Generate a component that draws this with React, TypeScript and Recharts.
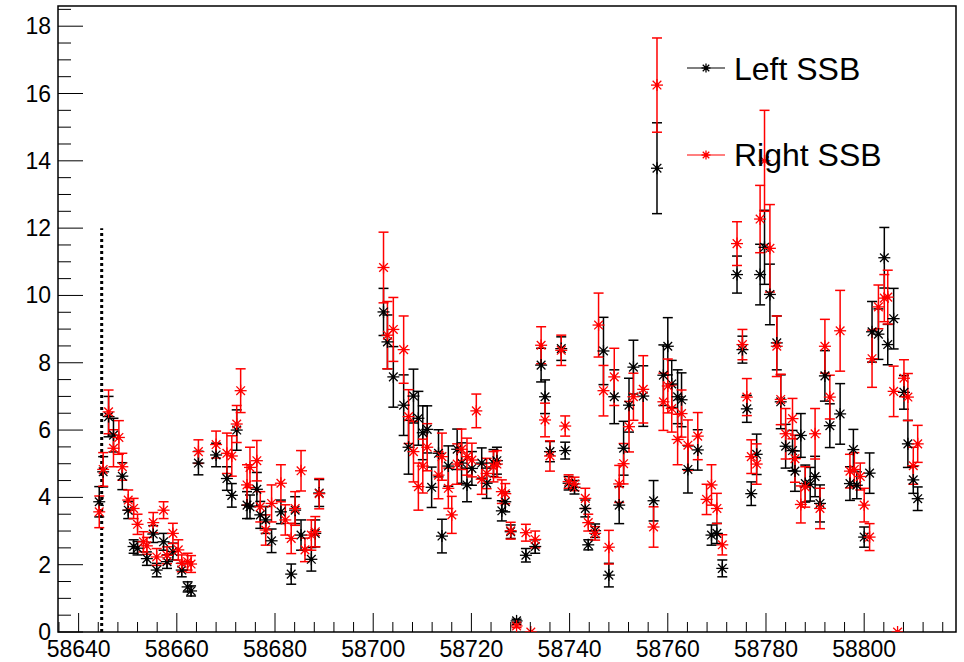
import React from 'react';
import {
  ScatterChart,
  Scatter,
  XAxis,
  YAxis,
  ErrorBar,
  ReferenceArea,
  ReferenceLine,
  Legend
} from 'recharts';

// MJD of each observation
const mjd = [
  58644.2, 58645.0, 58646.1, 58647.1, 58648.2, 58648.9, 58650.1, 58651.2, 58652.0, 58653.2,
  58653.9, 58655.2, 58655.9, 58657.3, 58658.0, 58659.2, 58660.3, 58661.0, 58662.2, 58662.9,
  58664.4, 58668.0, 58670.2, 58671.2, 58672.2, 58673.0, 58674.3, 58674.9, 58676.3, 58677.0,
  58678.1, 58679.3, 58681.2, 58682.1, 58683.3, 58684.1, 58685.3, 58686.1, 58687.4, 58688.2,
  58689.0, 58702.1, 58702.9, 58704.1, 58706.2, 58707.2, 58708.2, 58709.2, 58710.1, 58711.0,
  58711.9, 58713.3, 58714.0, 58715.3, 58716.0, 58717.1, 58718.0, 58719.1, 58720.1, 58721.0,
  58722.1, 58723.1, 58724.5, 58725.2, 58726.2, 58726.9, 58728.0, 58729.2, 58731.1, 58732.1,
  58733.0, 58734.2, 58735.0, 58736.0, 58738.3, 58739.1, 58739.8, 58741.0, 58743.2, 58743.8,
  58745.2, 58745.9, 58746.9, 58748.0, 58749.1, 58750.1, 58751.0, 58752.1, 58753.0, 58755.0,
  58757.1, 58757.8, 58759.1, 58760.0, 58760.8, 58762.0, 58762.8, 58764.1, 58766.1, 58767.9,
  58768.9, 58770.0, 58771.1, 58774.1, 58775.2, 58776.1, 58777.0, 58778.1, 58778.8, 58779.7,
  58780.8, 58782.2, 58783.0, 58784.0, 58785.4, 58785.9, 58787.1, 58788.0, 58789.0, 58790.0,
  58791.0, 58792.0, 58793.0, 58795.1, 58797.1, 58797.8, 58798.0, 58798.5, 58799.2, 58800.0,
  58801.1, 58801.6, 58802.9, 58804.1, 58804.8, 58806.0, 58806.8, 58808.1, 58808.9, 58810.0,
  58810.9
];

const leftSSB = [
  3.87, 4.76, 6.4, 5.85, null, 4.63, 3.62, 2.54, 2.49, null,
  2.18, 2.91, 1.84, 2.68, 2.09, 2.39, null, 1.84, 1.34, 1.22,
  5.02, 5.26, 4.56, 4.06, 6.0, null, 3.77, 3.72, 4.24, 3.48,
  3.33, 2.71, 3.57, null, 1.72, 3.62, 2.88, null, 2.16, 2.93,
  4.13, 9.51, 8.62, 7.58, 6.74, 5.49, 7.01, 6.35, 5.92, 6.02,
  4.3, 5.31, 2.85, 4.93, null, 5.43, 5.02, 4.37, 4.86, null,
  5.02, 4.42, 5.02, 5.09, 3.6, 3.87, 2.98, 0.33, 2.28, null,
  2.54, 7.93, 6.99, 5.36, 8.42, 5.39, 4.42, 4.3, 3.67, 2.59,
  3.01, null, 8.35, 1.69, 6.99, 3.77, 5.46, 6.74, 7.87, 7.01,
  3.9, 13.78, 7.63, 8.49, 7.37, 6.99, 6.9, 4.83, 5.41, null,
  2.88, 2.93, 1.89, 10.62, 8.39, 6.63, 4.11, 5.28, 10.62, 11.43,
  10.03, 8.59, 6.84, 5.52, 5.39, 4.78, 5.84, 4.41, 4.39, 4.62,
  3.82, 7.61, 6.13, 6.48, 4.41, 5.42, null, 4.36, null, 2.82,
  4.72, 8.92, 8.85, 11.12, 8.54, 9.31, null, 7.12, 5.59, 4.52,
  3.96
];

const leftErr = [
  0.45, 0.45, 0.6, 0.5, null, 0.4, 0.25, 0.2, 0.2, null,
  0.2, 0.25, 0.2, 0.25, 0.2, 0.25, null, 0.2, 0.15, 0.15,
  0.35, 0.35, 0.35, 0.35, 0.6, null, 0.4, 0.35, 0.5, 0.4,
  0.4, 0.35, 0.35, null, 0.3, 0.4, 0.45, null, 0.35, 0.4,
  0.4, 0.7, 0.8, 0.9, 0.9, 0.8, 0.8, 0.8, 0.8, 0.7,
  0.6, 0.7, 0.5, 0.6, null, 0.6, 0.6, 0.5, 0.5, null,
  0.45, 0.45, 0.4, 0.4, 0.3, 0.3, 0.2, 0.05, 0.2, null,
  0.2, 0.5, 0.5, 0.3, 0.35, 0.25, 0.2, 0.2, 0.25, 0.15,
  0.2, null, 1.0, 0.35, 0.8, 0.55, 0.8, 0.8, 0.8, 0.9,
  0.6, 1.35, 0.9, 0.85, 0.7, 0.8, 0.8, 0.7, 0.6, null,
  0.3, 0.3, 0.25, 0.55, 0.4, 0.4, 0.35, 0.6, 0.9, 1.1,
  0.9, 0.8, 0.8, 0.65, 0.6, 0.6, 0.65, 0.55, 0.5, 0.6,
  0.55, 0.75, 0.65, 0.9, 0.5, 0.6, null, 0.4, null, 0.3,
  0.6, 0.9, 0.75, 0.9, 0.6, 0.9, null, 0.5, 0.7, 0.4,
  0.35
];

const rightSSB = [
  3.57, 4.83, 6.54, 5.46, 5.78, 4.91, 3.92, 3.67, 3.2, 2.68,
  2.56, 3.25, 2.23, 3.62, 2.28, 2.93, 2.44, 2.04, 2.09, 2.02,
  5.36, 5.57, 5.31, 5.23, 6.18, 7.17, 4.37, 4.89, 5.09, 3.72,
  3.03, 3.82, 4.42, 3.33, 2.78, 3.67, 4.79, 2.44, 2.88, 2.98,
  4.11, 10.83, 8.82, 8.99, 8.39, 6.4, 5.36, 4.32, 4.93, 5.49,
  null, 4.66, 5.21, 4.27, 3.48, 4.99, 5.43, 5.21, 5.11, 6.57,
  4.54, 4.71, 4.91, 4.99, 4.17, 4.11, 3.01, 0.18, 2.95, 0,
  2.75, 8.52, 6.3, 5.23, 8.37, 6.12, 4.47, 4.4, 3.97, 3.25,
  2.93, 9.12, 7.17, 2.52, 7.58, 4.4, 5.0, 6.1, 6.99, 7.21,
  3.12, 16.25, 6.84, 7.31, 6.64, 5.72, 6.49, 5.55, 5.82, 3.94,
  4.37, 3.67, 2.59, 11.54, 8.54, 6.98, 5.21, 4.99, 12.27, 14.0,
  11.4, 8.49, 6.91, 5.89, 6.34, 5.15, 3.79, 4.31, null, 5.89,
  3.67, 8.49, 6.98, 8.95, 4.78, null, 4.83, null, 4.62, 3.77,
  2.82, 8.12, 9.66, 9.92, 9.95, 7.15, 0, 7.54, 6.98, 4.94,
  5.59
];

const rightErr = [
  0.47, 0.5, 0.65, 0.55, 0.5, 0.4, 0.3, 0.3, 0.3, 0.3,
  0.25, 0.3, 0.25, 0.25, 0.25, 0.3, 0.3, 0.25, 0.25, 0.25,
  0.35, 0.4, 0.6, 0.6, 0.55, 0.65, 0.6, 0.6, 0.6, 0.45,
  0.45, 0.55, 0.55, 0.45, 0.45, 0.5, 0.6, 0.35, 0.45, 0.45,
  0.45, 1.05, 1.0, 0.95, 1.0, 0.8, 0.9, 0.7, 0.8, 0.7,
  null, 0.7, 0.7, 0.6, 0.55, 0.6, 0.6, 0.55, 0.5, 0.5,
  0.45, 0.45, 0.45, 0.4, 0.35, 0.3, 0.25, 0.05, 0.25, 0,
  0.25, 0.55, 0.5, 0.45, 0.45, 0.3, 0.2, 0.2, 0.3, 0.25,
  0.2, 0.95, 0.75, 0.5, 0.85, 0.55, 0.6, 0.75, 0.7, 1.0,
  0.6, 1.4, 0.85, 0.8, 0.7, 0.75, 0.7, 0.75, 0.7, 0.45,
  0.6, 0.45, 0.3, 0.65, 0.45, 0.55, 0.5, 0.6, 1.0, 1.5,
  1.3, 0.9, 0.75, 0.75, 0.6, 0.7, 0.55, 0.6, null, 0.75,
  0.6, 0.8, 0.65, 1.2, 0.5, null, 0.5, null, 0.4, 0.5,
  0.4, 0.85, 0.65, 0.7, 0.8, 0.75, 0, 0.55, 0.7, 0.55,
  0.55
];

const xMajorTicks = [58640, 58660, 58680, 58700, 58720, 58740, 58760, 58780, 58800];
const yMajorTicks = [0, 2, 4, 6, 8, 10, 12, 14, 16, 18];

const xDomain: [number, number] = [58635.8, 58818.7];
const yDomain: [number, number] = [0, 18.6];
const markerLine = 58644.7;

const FONT = '"Liberation Sans", Arial, Helvetica, sans-serif';

const toPoints = (vals: (number | null)[], errs: (number | null)[]) =>
  mjd
    .map((d, i) => ({ x: d, y: vals[i], err: errs[i] }))
    .filter((p) => p.y !== null);

const leftData = toPoints(leftSSB, leftErr);
const rightData = toPoints(rightSSB, rightErr);

const xTicks: number[] = [];
for (let t = xMajorTicks[0] - 4; t <= xDomain[1]; t += 4) xTicks.push(t);
const yTicks: number[] = [];
for (let t = 0; t <= yDomain[1]; t += 0.5) yTicks.push(t);

const Star = ({ cx, cy, color, r = 6 }: { cx: number; cy: number; color: string; r?: number }) => {
  const d = r * 0.72;
  return (
    <g stroke={color} strokeWidth={1.3}>
      <line x1={cx - r} y1={cy} x2={cx + r} y2={cy} />
      <line x1={cx} y1={cy - r} x2={cx} y2={cy + r} />
      <line x1={cx - d} y1={cy - d} x2={cx + d} y2={cy + d} />
      <line x1={cx - d} y1={cy + d} x2={cx + d} y2={cy - d} />
      <circle cx={cx} cy={cy} r={2} fill={color} stroke="none" />
    </g>
  );
};

const XTick = (props: any) => {
  const { x, y, payload } = props;
  const major = xMajorTicks.includes(payload.value);
  return (
    <g>
      <line x1={x} y1={y} x2={x} y2={y - (major ? 19 : 10)} stroke="#000" strokeWidth={1} />
      {major && (
        <text x={x} y={y + 25} textAnchor="middle" fontSize={23} fontFamily={FONT} fill="#000">
          {payload.value}
        </text>
      )}
    </g>
  );
};

const YTick = (props: any) => {
  const { x, y, payload } = props;
  const major = yMajorTicks.includes(payload.value);
  return (
    <g>
      <line x1={x} y1={y} x2={x + (major ? 25 : 13)} y2={y} stroke="#000" strokeWidth={1} />
      {major && (
        <text x={x - 7} y={y + 8} textAnchor="end" fontSize={23} fontFamily={FONT} fill="#000">
          {payload.value}
        </text>
      )}
    </g>
  );
};

const LegendBox = () => (
  <svg width={964} height={200} style={{ display: 'block' }}>
    <g>
      <line x1={687} y1={68} x2={725} y2={68} stroke="#000" strokeWidth={1.2} />
      <Star cx={706} cy={68} color="#000" r={4.5} />
      <text x={734} y={80} fontSize={32} fontFamily={FONT} fill="#000">
        Left SSB
      </text>
    </g>
    <g>
      <line x1={687} y1={155} x2={725} y2={155} stroke="#ff0000" strokeWidth={1.2} />
      <Star cx={706} cy={155} color="#ff0000" r={4.5} />
      <text x={734} y={166} fontSize={32} fontFamily={FONT} fill="#000">
        Right SSB
      </text>
    </g>
  </svg>
);

export default function App() {
  return (
    <div style={{ position: 'absolute', left: 0, top: 0, width: 964, height: 662, background: '#fff' }}>
      <ScatterChart width={964} height={662} margin={{ top: 6, right: 8, bottom: 0, left: 0 }}>
        <XAxis
          type="number"
          dataKey="x"
          domain={xDomain}
          allowDataOverflow
          ticks={xTicks}
          interval={0}
          tick={<XTick />}
          tickSize={0}
          tickMargin={0}
          axisLine={false}
          height={30}
        />
        <YAxis
          type="number"
          dataKey="y"
          domain={yDomain}
          allowDataOverflow
          ticks={yTicks}
          interval={0}
          tick={<YTick />}
          tickSize={0}
          tickMargin={0}
          axisLine={false}
          width={58}
        />
        <ReferenceArea
          x1={xDomain[0]}
          x2={xDomain[1]}
          y1={yDomain[0]}
          y2={yDomain[1]}
          fill="none"
          stroke="#000"
          strokeWidth={1.5}
          fillOpacity={0}
        />
        <ReferenceLine
          segment={[
            { x: markerLine, y: 0 },
            { x: markerLine, y: 12 }
          ]}
          stroke="#000"
          strokeWidth={3}
          strokeDasharray="3 3"
        />
        <Legend
          layout="horizontal"
          verticalAlign="middle"
          align="center"
          content={<LegendBox />}
          wrapperStyle={{ left: 0, top: 0, width: 964, height: 200 }}
        />
        <Scatter
          name="Left SSB"
          data={leftData}
          isAnimationActive={false}
          shape={(p: any) => <Star cx={p.cx} cy={p.cy} color="#000" />}
        >
          <ErrorBar dataKey="err" direction="y" width={5} stroke="#000" strokeWidth={1.5} />
        </Scatter>
        <Scatter
          name="Right SSB"
          data={rightData}
          isAnimationActive={false}
          shape={(p: any) => <Star cx={p.cx} cy={p.cy} color="#ff0000" />}
        >
          <ErrorBar dataKey="err" direction="y" width={5} stroke="#ff0000" strokeWidth={1.5} />
        </Scatter>
      </ScatterChart>
    </div>
  );
}
